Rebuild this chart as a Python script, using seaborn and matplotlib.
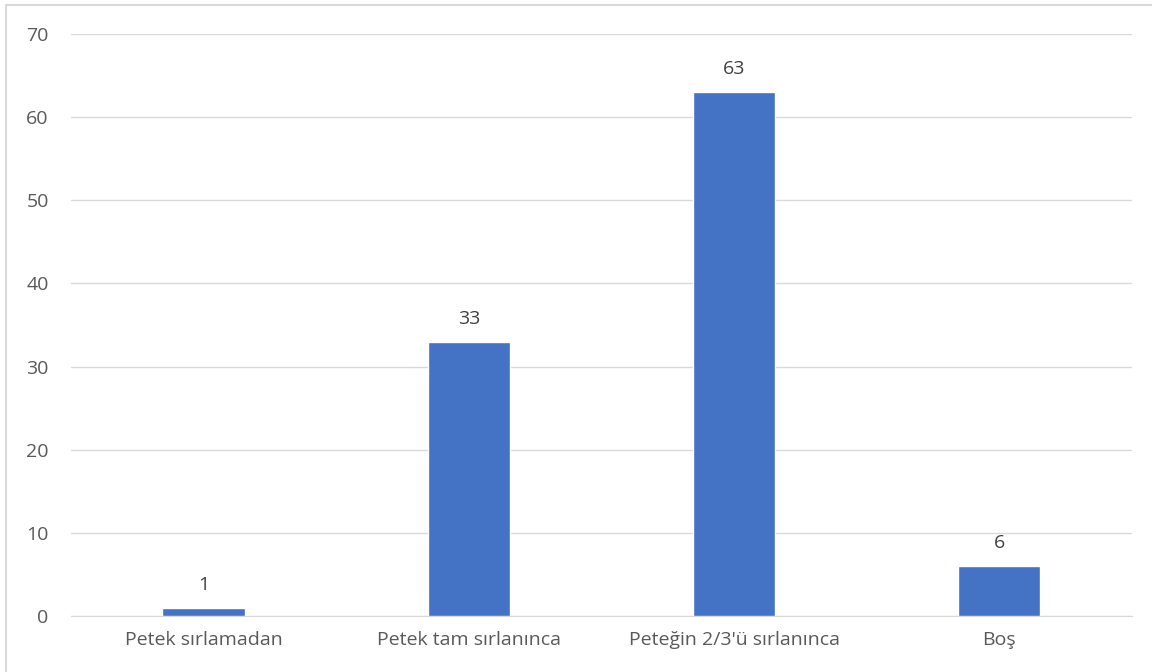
import matplotlib
matplotlib.use("Agg")
import matplotlib.pyplot as plt
import seaborn as sns
import pandas as pd

# veriler
kategoriler = ["Petek sırlamadan", "Petek tam sırlanınca", "Peteğin 2/3'ü sırlanınca", "Boş"]
degerler = [1, 33, 63, 6]

sns.set_style("white")
plt.rcParams['font.family'] = ['Open Sans', 'DejaVu Sans']

df = pd.DataFrame({"kategori": kategoriler, "deger": degerler})

fig = plt.figure(figsize=(11.52, 6.72), dpi=100)
ax = fig.add_axes([0.0616, 0.0833, 0.9210, 0.8660])

sns.barplot(data=df, x="kategori", y="deger", color="#4472C4", width=0.31,
            saturation=1, ax=ax, zorder=3)

ax.set_ylim(0, 70)
ax.set_yticks(range(0, 71, 10))
ax.yaxis.grid(True, color="#d9d9d9", linewidth=1, zorder=0)
ax.set_xlabel("")
ax.set_ylabel("")
for s in ["top", "right", "left"]:
    ax.spines[s].set_visible(False)
ax.spines["bottom"].set_color("#d9d9d9")
ax.tick_params(axis="both", length=0, labelsize=14, colors="#595959")
ax.tick_params(axis="x", pad=11)
ax.tick_params(axis="y", pad=16)

for p, v in zip(ax.patches, degerler):
    ax.annotate(str(v), (p.get_x() + p.get_width() / 2, p.get_height()),
                xytext=(0, 10), textcoords="offset points", ha="center", va="bottom",
                fontsize=14, color="#404040")

# dış çerçeve
fig.patches.append(plt.Rectangle((6 / 1152, -0.01), 1.02, 1 - 5 / 672 + 0.01,
                                 transform=fig.transFigure, fill=False,
                                 edgecolor="#d9d9d9", linewidth=1.5))

fig.savefig("out.png", dpi=100)
